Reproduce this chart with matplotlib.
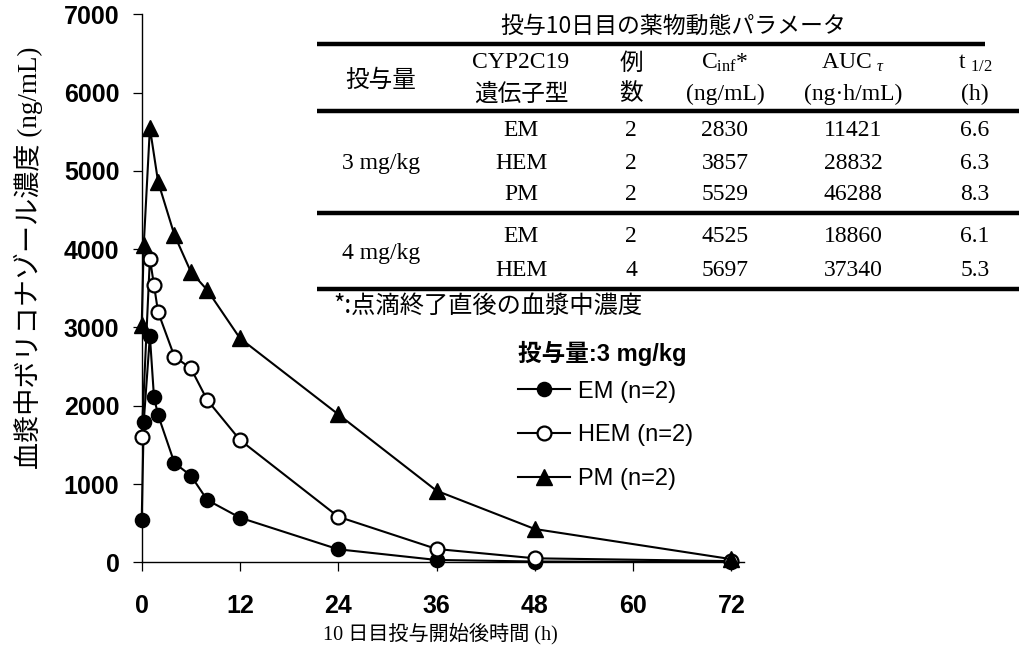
import matplotlib
matplotlib.use('Agg')
import matplotlib.pyplot as plt
from matplotlib import font_manager
from matplotlib.lines import Line2D

# ---------------- data ----------------
time_em = [0, 0.25, 1, 1.5, 2, 4, 6, 8, 12, 24, 36, 48, 72]
conc_em = [536, 1796, 2890, 2111, 1881, 1268, 1108, 796, 570, 166, 30, 10, 5]

time_hem = [0, 1, 1.5, 2, 4, 6, 8, 12, 24, 36, 48, 72]
conc_hem = [1604, 3880, 3541, 3197, 2626, 2478, 2073, 1562, 582, 170, 51, 15]

time_pm = [0, 0.25, 1, 2, 4, 6, 8, 12, 24, 36, 48, 72]
conc_pm = [3031, 4052, 5550, 4861, 4180, 3711, 3478, 2861, 1890, 914, 425, 40]

series_labels = ['EM (n=2)', 'HEM (n=2)', 'PM (n=2)']
legend_title = '投与量:3 mg/kg'

x_ticks = [0, 12, 24, 36, 48, 60, 72]
y_ticks = [0, 1000, 2000, 3000, 4000, 5000, 6000, 7000]

xlabel = '10 日目投与開始後時間 (h)'
ylabel = '血漿中ボリコナゾール濃度 (ng/mL)'

table_title = '投与10日目の薬物動態パラメータ'
table_header_1 = ['投与量', 'CYP2C19', '例', 'C$_{\\mathregular{inf}}$*', 'AUC $_{\\tau}$', 't $_{\\mathregular{1/2}}$']
table_header_2 = ['', '遺伝子型', '数', '(ng/mL)', '(ng·h/mL)', '(h)']
table_doses = ['3 mg/kg', '4 mg/kg']
table_genotypes = ['EM', 'HEM', 'PM', 'EM', 'HEM']
table_n = ['2', '2', '2', '2', '4']
table_cinf = ['2830', '3857', '5529', '4525', '5697']
table_auc = ['11421', '28832', '46288', '18860', '37340']
table_thalf = ['6.6', '6.3', '8.3', '6.1', '5.3']
footnote = '*:点滴終了直後の血漿中濃度'

# ---------------- fonts ----------------
def has_font(name):
    try:
        font_manager.findfont(font_manager.FontProperties(family=name), fallback_to_default=False)
        return True
    except Exception:
        return False

CJK = 'Noto Sans CJK JP'
SERIF = ['Liberation Serif', CJK]
SANS = ['Liberation Sans', CJK]
NARROW = ['Liberation Sans Narrow'] if has_font('Liberation Sans Narrow') else ['Liberation Sans']

plt.rcParams['font.family'] = SANS
plt.rcParams['mathtext.fontset'] = 'custom'
plt.rcParams['mathtext.rm'] = 'Liberation Serif'
plt.rcParams['mathtext.it'] = 'Liberation Serif:italic'
plt.rcParams['mathtext.bf'] = 'Liberation Serif:bold'

W, H = 1020, 651
fig = plt.figure(figsize=(W / 100, H / 100), dpi=100)
fig.patch.set_facecolor('white')

def fx(px):
    return px / W

def fy(py):
    return 1 - py / H

x0, x1, y0, y1 = 141.7, 743.7, 562.3, 14.3
ax = fig.add_axes([fx(x0), fy(y0), fx(x1) - fx(x0), fy(y1) - fy(y0)])
ax.set_xlim(0, 73.5)
ax.set_ylim(0, 7000)
for s in ['top', 'right']:
    ax.spines[s].set_visible(False)
for s in ['left', 'bottom']:
    ax.spines[s].set_linewidth(1.0)
    ax.spines[s].set_color('black')

ax.set_xticks(x_ticks)
ax.set_yticks(y_ticks)
ax.set_xticklabels([str(v) for v in x_ticks])
ax.set_yticklabels([str(v) for v in y_ticks])
ax.tick_params(axis='both', direction='out', length=6.5, width=0.9, color='black')
ax.tick_params(axis='y', pad=9.5)
ax.tick_params(axis='x', pad=16.5)
for lab in ax.get_yticklabels():
    lab.set_fontfamily(['Liberation Sans'])
    lab.set_fontweight('bold')
    lab.set_fontsize(18)
for lab in ax.get_xticklabels():
    lab.set_fontfamily(NARROW)
    lab.set_fontweight('bold')
    lab.set_fontsize(18)

lw = 1.5
l_em, = ax.plot(time_em, conc_em, color='black', lw=lw, marker='o', ms=10,
                mfc='black', mec='black', mew=1.2, clip_on=False, zorder=3, label=series_labels[0])
l_hem, = ax.plot(time_hem, conc_hem, color='black', lw=lw, marker='o', ms=10,
                 mfc='white', mec='black', mew=1.6, clip_on=False, zorder=4, label=series_labels[1])
l_pm, = ax.plot(time_pm, conc_pm, color='black', lw=lw, marker='^', ms=11.5,
                mfc='black', mec='black', mew=1.0, clip_on=False, zorder=5, label=series_labels[2])

ax.set_xlabel(xlabel, fontfamily=SERIF, fontsize=14.5)
ax.xaxis.label.set_va('center')
ax.xaxis.set_label_coords((440 - x0) / (x1 - x0), (y0 - 634) / (y0 - y1))
ax.set_ylabel(ylabel, fontfamily=SERIF, fontsize=19.5)
ax.yaxis.label.set_va('center')
ax.yaxis.set_label_coords((28 - x0) / (x1 - x0), (y0 - 258) / (y0 - y1))

leg = ax.legend(handles=[l_em, l_hem, l_pm], loc='upper left',
                bbox_to_anchor=(fx(518), fy(341)), bbox_transform=fig.transFigure,
                frameon=False, borderpad=0, borderaxespad=0,
                handlelength=2.2, handletextpad=0.35, labelspacing=0.92,
                prop={'family': ['Liberation Sans'], 'size': 17},
                title=legend_title,
                title_fontproperties={'family': SANS, 'size': 17, 'weight': 'bold'})
leg._legend_box.align = 'left'
leg._legend_box.sep = 10.5

# ---------------- table ----------------
def ftext(px, py, s, size=16, family=SERIF, ha='center', **kw):
    fig.text(fx(px), fy(py), s, ha=ha, va='center', fontsize=size, fontfamily=family, **kw)

ftext(673, 26, table_title, size=16.5, family=[CJK])

rule_lw = 3.2
for (xa, xb, yy) in [(317, 985, 44), (317, 1020, 111), (317, 1020, 213), (317, 1020, 289)]:
    fig.add_artist(Line2D([fx(xa), fx(xb)], [fy(yy), fy(yy)], transform=fig.transFigure,
                          color='black', lw=rule_lw, solid_capstyle='butt'))

TS = 17
col_x = [381, 521, 631, 725, 853, 975]
hdr_y1, hdr_y2 = 63, 94
ftext(col_x[0], 80, table_header_1[0], size=17, family=[CJK])
for i in range(1, 6):
    fam = [CJK] if i == 2 else SERIF
    ftext(col_x[i], hdr_y1, table_header_1[i], size=TS, family=fam)
    fam2 = [CJK] if i in (1, 2) else SERIF
    ftext(col_x[i], hdr_y2, table_header_2[i], size=TS, family=fam2)

row_y = [131, 163, 195, 236, 271]
ftext(col_x[0], 163, table_doses[0], size=TS)
ftext(col_x[0], 253, table_doses[1], size=TS)
for r in range(5):
    ftext(col_x[1], row_y[r], table_genotypes[r], size=TS)
    ftext(col_x[2], row_y[r], table_n[r], size=TS)
    ftext(col_x[3], row_y[r], table_cinf[r], size=TS)
    ftext(col_x[4], row_y[r], table_auc[r], size=TS)
    ftext(col_x[5], row_y[r], table_thalf[r], size=TS)

ftext(333, 306, footnote, size=17.5, family=[CJK], ha='left')

fig.savefig('out.png', dpi=100, facecolor='white')
